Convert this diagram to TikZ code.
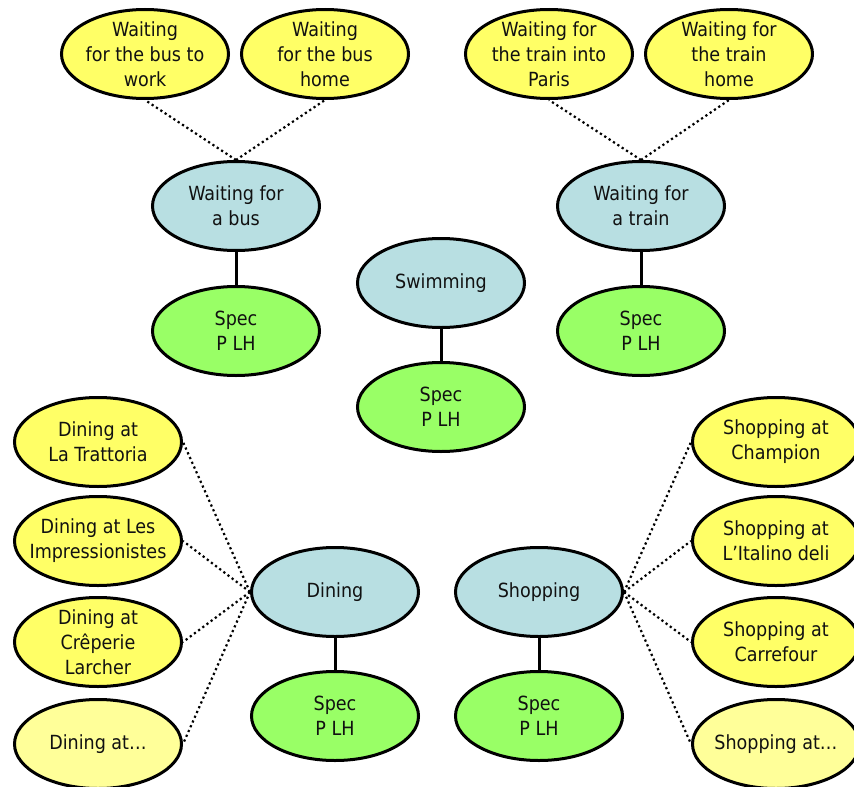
\documentclass[tikz,border=0pt]{standalone}
\usepackage{fontspec}
\setmainfont{DejaVu Sans Condensed}
\usetikzlibrary{shapes.geometric}
\definecolor{leafyellow}{HTML}{FFFF66}
\definecolor{paleyellow}{HTML}{FFFF99}
\definecolor{topicblue}{HTML}{B8DFE2}
\definecolor{specgreen}{HTML}{99FF66}
\definecolor{inktext}{HTML}{111111}
\begin{document}
\begin{tikzpicture}[x=1pt,y=-1pt,
  bubble/.style={ellipse,draw=black,line width=3pt,minimum width=167pt,minimum height=89pt,
    inner sep=-22pt,align=center,text=inktext,
    font=\fontsize{19.5}{25}\selectfont},
  leaf/.style={bubble,fill=leafyellow},
  moreleaf/.style={bubble,fill=paleyellow},
  topic/.style={bubble,fill=topicblue},
  spec/.style={bubble,fill=specgreen},
  solidlink/.style={line width=3pt},
  dotlink/.style={line width=2.2pt,dash pattern=on 2.2pt off 3pt}]
\useasboundingbox (0,0) rectangle (854,787);

% bus branch
\node[leaf] (buswork) at (145,54) {Waiting\\for the bus to\\work};
\node[leaf] (bushome) at (325,54) {Waiting\\for the bus\\home};
\node[topic] (bus) at (236,206) {Waiting for\\a bus};
\node[spec] (busspec) at (236,331) {Spec\\P LH};

% train branch
\node[leaf] (trainparis) at (549,54) {Waiting for\\the train into\\Paris};
\node[leaf] (trainhome) at (729,54) {Waiting for\\the train\\home};
\node[topic] (train) at (641,206) {Waiting for\\a train};
\node[spec] (trainspec) at (641,331) {Spec\\P LH};

% swimming
\node[topic] (swim) at (441,283) {Swimming};
\node[spec] (swimspec) at (441,407) {Spec\\P LH};

% dining branch
\node[leaf] (trattoria) at (98,442) {Dining at\\La Trattoria};
\node[leaf] (impress) at (98,541) {Dining at Les\\Impressionistes};
\node[leaf] (creperie) at (98,642) {Dining at\\Crêperie\\Larcher};
\node[moreleaf] (diningmore) at (98,744) {Dining at…};
\node[topic] (dining) at (335,592) {Dining};
\node[spec] (diningspec) at (335,716) {Spec\\P LH};

% shopping branch
\node[leaf] (champion) at (776,442) {Shopping at\\Champion};
\node[leaf] (italino) at (776,541) {Shopping at\\L’Italino deli};
\node[leaf] (carrefour) at (776,642) {Shopping at\\Carrefour};
\node[moreleaf] (shopmore) at (776,744) {Shopping at…};
\node[topic] (shopping) at (539,592) {Shopping};
\node[spec] (shopspec) at (539,716) {Spec\\P LH};

% solid links to the spec nodes
\draw[solidlink] (bus) -- (busspec);
\draw[solidlink] (train) -- (trainspec);
\draw[solidlink] (swim) -- (swimspec);
\draw[solidlink] (dining) -- (diningspec);
\draw[solidlink] (shopping) -- (shopspec);

% dotted links to the leaves
\draw[dotlink] (bus.north) -- (buswork.south);
\draw[dotlink] (bus.north) -- (bushome.south);
\draw[dotlink] (train.north) -- (trainparis.south);
\draw[dotlink] (train.north) -- (trainhome.south);
\foreach \leafname in {trattoria,impress,creperie,diningmore}
  \draw[dotlink] (dining.west) -- (\leafname.east);
\foreach \leafname in {champion,italino,carrefour,shopmore}
  \draw[dotlink] (shopping.east) -- (\leafname.west);
\end{tikzpicture}
\end{document}
